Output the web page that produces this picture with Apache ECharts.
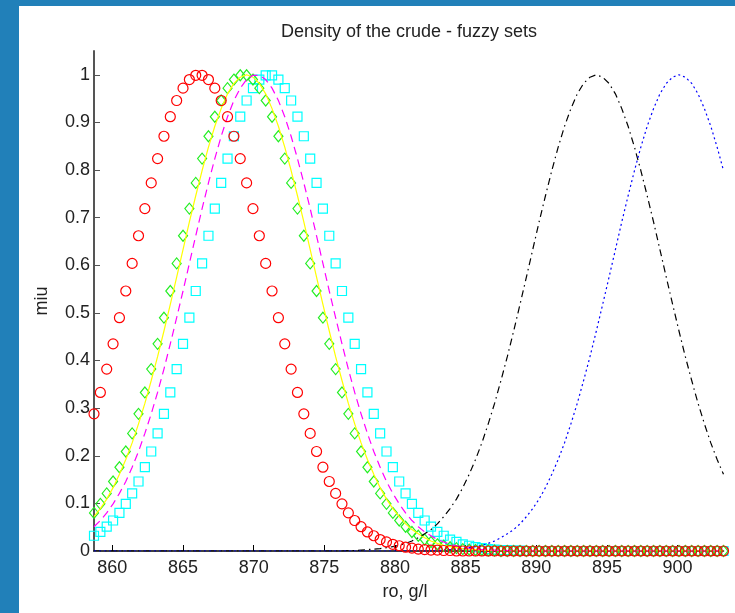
<!DOCTYPE html>
<html><head><meta charset="utf-8">
<script src="https://cdn.jsdelivr.net/npm/echarts@6/dist/echarts.min.js"></script>
<style>html,body{margin:0;padding:0;background:#fff}#c{width:735px;height:613px}</style>
</head><body><div id="c"></div>
<script>
const xValues = [
858.7, 859.15, 859.6, 860.05, 860.5, 860.95, 861.4, 861.85, 862.3, 862.75,
863.2, 863.65, 864.1, 864.55, 865.0, 865.45, 865.9, 866.35, 866.8, 867.25,
867.7, 868.15, 868.6, 869.05, 869.5, 869.95, 870.4, 870.85, 871.3, 871.75,
872.2, 872.65, 873.1, 873.55, 874.0, 874.45, 874.9, 875.35, 875.8, 876.25,
876.7, 877.15, 877.6, 878.05, 878.5, 878.95, 879.4, 879.85, 880.3, 880.75,
881.2, 881.65, 882.1, 882.55, 883.0, 883.45, 883.9, 884.35, 884.8, 885.25,
885.7, 886.15, 886.6, 887.05, 887.5, 887.95, 888.4, 888.85, 889.3, 889.75,
890.2, 890.65, 891.1, 891.55, 892.0, 892.45, 892.9, 893.35, 893.8, 894.25,
894.7, 895.15, 895.6, 896.05, 896.5, 896.95, 897.4, 897.85, 898.3, 898.75,
899.2, 899.65, 900.1, 900.55, 901.0, 901.45, 901.9, 902.35, 902.8, 903.25];

const redCircles = [
0.288, 0.333, 0.382, 0.435, 0.490, 0.546, 0.604, 0.662, 0.719, 0.773,
0.824, 0.871, 0.912, 0.946, 0.972, 0.990, 0.999, 0.999, 0.990, 0.972,
0.946, 0.912, 0.871, 0.824, 0.773, 0.719, 0.662, 0.604, 0.546, 0.490,
0.435, 0.382, 0.333, 0.288, 0.247, 0.209, 0.176, 0.146, 0.121, 0.099,
0.080, 0.064, 0.051, 0.040, 0.032, 0.024, 0.019, 0.014, 0.011, 0.008,
0.006, 0.004, 0.003, 0.002, 0.002, 0.001, 0.001, 0, 0, 0,
0, 0, 0, 0, 0, 0, 0, 0, 0, 0,
0, 0, 0, 0, 0, 0, 0, 0, 0, 0,
0, 0, 0, 0, 0, 0, 0, 0, 0, 0,
0, 0, 0, 0, 0, 0, 0, 0, 0, 0];

const greenDiamonds = [
0.080, 0.099, 0.121, 0.146, 0.176, 0.209, 0.247, 0.288, 0.333, 0.382,
0.435, 0.490, 0.546, 0.604, 0.662, 0.719, 0.773, 0.824, 0.871, 0.912,
0.946, 0.972, 0.990, 0.999, 0.999, 0.990, 0.972, 0.946, 0.912, 0.871,
0.824, 0.773, 0.719, 0.662, 0.604, 0.546, 0.490, 0.435, 0.382, 0.333,
0.288, 0.247, 0.209, 0.176, 0.146, 0.121, 0.099, 0.080, 0.064, 0.051,
0.040, 0.032, 0.024, 0.019, 0.014, 0.011, 0.008, 0.006, 0.004, 0.003,
0.002, 0.002, 0.001, 0.001, 0, 0, 0, 0, 0, 0,
0, 0, 0, 0, 0, 0, 0, 0, 0, 0,
0, 0, 0, 0, 0, 0, 0, 0, 0, 0,
0, 0, 0, 0, 0, 0, 0, 0, 0, 0];

const cyanSquares = [
0.032, 0.040, 0.051, 0.064, 0.080, 0.099, 0.121, 0.146, 0.176, 0.209,
0.247, 0.288, 0.333, 0.382, 0.435, 0.490, 0.546, 0.604, 0.662, 0.719,
0.773, 0.824, 0.871, 0.912, 0.946, 0.972, 0.990, 0.999, 0.999, 0.990,
0.972, 0.946, 0.912, 0.871, 0.824, 0.773, 0.719, 0.662, 0.604, 0.546,
0.490, 0.435, 0.382, 0.333, 0.288, 0.247, 0.209, 0.176, 0.146, 0.121,
0.099, 0.080, 0.064, 0.051, 0.040, 0.032, 0.024, 0.019, 0.014, 0.011,
0.008, 0.006, 0.004, 0.003, 0.002, 0.002, 0.001, 0.001, 0, 0,
0, 0, 0, 0, 0, 0, 0, 0, 0, 0,
0, 0, 0, 0, 0, 0, 0, 0, 0, 0,
0, 0, 0, 0, 0, 0, 0, 0, 0, 0];

const yellowLine = [
0.072, 0.089, 0.109, 0.133, 0.161, 0.192, 0.227, 0.267, 0.310, 0.358,
0.408, 0.462, 0.518, 0.575, 0.633, 0.691, 0.746, 0.799, 0.848, 0.892,
0.929, 0.960, 0.982, 0.995, 1.000, 0.995, 0.982, 0.960, 0.929, 0.892,
0.848, 0.799, 0.746, 0.691, 0.633, 0.575, 0.518, 0.462, 0.408, 0.358,
0.310, 0.267, 0.227, 0.192, 0.161, 0.133, 0.109, 0.089, 0.072, 0.057,
0.045, 0.036, 0.028, 0.021, 0.016, 0.012, 0.009, 0.007, 0.005, 0.004,
0.003, 0.002, 0.001, 0.001, 0, 0, 0, 0, 0, 0,
0, 0, 0, 0, 0, 0, 0, 0, 0, 0,
0, 0, 0, 0, 0, 0, 0, 0, 0, 0,
0, 0, 0, 0, 0, 0, 0, 0, 0, 0];

const magentaLine = [
0.051, 0.064, 0.080, 0.099, 0.121, 0.146, 0.176, 0.209, 0.247, 0.288,
0.333, 0.382, 0.435, 0.490, 0.546, 0.604, 0.662, 0.719, 0.773, 0.824,
0.871, 0.912, 0.946, 0.972, 0.990, 0.999, 0.999, 0.990, 0.972, 0.946,
0.912, 0.871, 0.824, 0.773, 0.719, 0.662, 0.604, 0.546, 0.490, 0.435,
0.382, 0.333, 0.288, 0.247, 0.209, 0.176, 0.146, 0.121, 0.099, 0.080,
0.064, 0.051, 0.040, 0.032, 0.024, 0.019, 0.014, 0.011, 0.008, 0.006,
0.004, 0.003, 0.002, 0.002, 0.001, 0.001, 0, 0, 0, 0,
0, 0, 0, 0, 0, 0, 0, 0, 0, 0,
0, 0, 0, 0, 0, 0, 0, 0, 0, 0,
0, 0, 0, 0, 0, 0, 0, 0, 0, 0];

const blackLine = [
0, 0, 0, 0, 0, 0, 0, 0, 0, 0,
0, 0, 0, 0, 0, 0, 0, 0, 0, 0,
0, 0, 0, 0, 0, 0, 0, 0, 0, 0,
0, 0, 0, 0, 0, 0, 0, 0, 0, 0,
0.001, 0.001, 0.002, 0.003, 0.004, 0.005, 0.007, 0.009, 0.012, 0.016,
0.021, 0.028, 0.036, 0.045, 0.057, 0.072, 0.089, 0.109, 0.133, 0.161,
0.192, 0.227, 0.267, 0.310, 0.358, 0.408, 0.462, 0.518, 0.575, 0.633,
0.691, 0.746, 0.799, 0.848, 0.892, 0.929, 0.960, 0.982, 0.995, 1.000,
0.995, 0.982, 0.960, 0.929, 0.892, 0.848, 0.799, 0.746, 0.691, 0.633,
0.575, 0.518, 0.462, 0.408, 0.358, 0.310, 0.267, 0.227, 0.192, 0.161];

const blueLine = [
0, 0, 0, 0, 0, 0, 0, 0, 0, 0,
0, 0, 0, 0, 0, 0, 0, 0, 0, 0,
0, 0, 0, 0, 0, 0, 0, 0, 0, 0,
0, 0, 0, 0, 0, 0, 0, 0, 0, 0,
0, 0, 0, 0, 0, 0, 0, 0, 0, 0,
0, 0, 0, 0.001, 0.001, 0.002, 0.003, 0.004, 0.005, 0.007,
0.009, 0.012, 0.016, 0.021, 0.028, 0.036, 0.045, 0.057, 0.072, 0.089,
0.109, 0.133, 0.161, 0.192, 0.227, 0.267, 0.310, 0.358, 0.408, 0.462,
0.518, 0.575, 0.633, 0.691, 0.746, 0.799, 0.848, 0.892, 0.929, 0.960,
0.982, 0.995, 1.000, 0.995, 0.982, 0.960, 0.929, 0.892, 0.848, 0.799];

const xTicks = [860, 865, 870, 875, 880, 885, 890, 895, 900];
const yTicks = [0, 0.1, 0.2, 0.3, 0.4, 0.5, 0.6, 0.7, 0.8, 0.9, 1];

const titleText = 'Density of the crude - fuzzy sets';
const xLabelText = 'ro, g/l';
const yLabelText = 'miu';

function pairs(ys) { return xValues.map(function (x, i) { return [x, ys[i]]; }); }

const FONT_FAMILY = '"Liberation Sans", Arial, sans-serif';
const chart = echarts.init(document.getElementById('c'), null, { renderer: 'canvas' });

function markerSeries(data, symbol, size, color, z) {
  return {
    type: 'scatter', data: pairs(data), symbol: symbol, symbolSize: size, silent: true, z: z,
    itemStyle: { color: 'rgba(0,0,0,0)', borderColor: color, borderWidth: 1.2, opacity: 1 },
    emphasis: { disabled: true }
  };
}
function lineSeries(data, color, dash, z) {
  return {
    type: 'line', data: pairs(data), showSymbol: false, symbol: 'none', silent: true, z: z,
    lineStyle: { color: color, width: 1.2, type: dash },
    emphasis: { disabled: true }
  };
}

chart.setOption({
  animation: false,
  backgroundColor: '#ffffff',
  grid: { left: 94, top: 51, width: 629.5, height: 500, containLabel: false, outerBoundsMode: 'none' },
  xAxis: {
    type: 'value', min: 858.7, max: 903.25,
    splitLine: { show: false },
    axisLine: { show: true, onZero: false, lineStyle: { color: '#000', width: 1.5 } },
    axisTick: { show: true, inside: true, length: 6, customValues: xTicks, lineStyle: { color: '#000' } },
    axisLabel: { customValues: xTicks, margin: 8, fontSize: 18, fontFamily: FONT_FAMILY, color: '#222' }
  },
  yAxis: {
    type: 'value', min: 0, max: 1.05,
    splitLine: { show: false },
    axisLine: { show: true, onZero: false, lineStyle: { color: '#555', width: 2 } },
    axisTick: { show: true, inside: true, length: 6, customValues: yTicks, lineStyle: { color: '#555' } },
    axisLabel: { customValues: yTicks, margin: 4, fontSize: 18, fontFamily: FONT_FAMILY, color: '#222',
      formatter: function (v) { return String(v); } }
  },
  graphic: [
    { type: 'rect', shape: { x: 0, y: 0, width: 19, height: 613 }, style: { fill: '#2180b9' }, silent: true },
    { type: 'rect', shape: { x: 0, y: 0, width: 735, height: 6 }, style: { fill: '#2180b9' }, silent: true },
    { type: 'text', x: 409, y: 32, silent: true,
      style: { text: titleText, fill: '#222', font: '18px ' + FONT_FAMILY, align: 'center', verticalAlign: 'middle' } },
    { type: 'text', x: 405, y: 592, silent: true,
      style: { text: xLabelText, fill: '#222', font: '18px ' + FONT_FAMILY, align: 'center', verticalAlign: 'middle' } },
    { type: 'text', x: 42, y: 301, rotation: Math.PI / 2, silent: true,
      style: { text: yLabelText, fill: '#222', font: '18px ' + FONT_FAMILY, align: 'center', verticalAlign: 'middle' } }
  ],
  series: [
    markerSeries(cyanSquares, 'rect', 9, '#00ffff', 2),
    markerSeries(greenDiamonds, 'diamond', [9, 11], '#22ee22', 3),
    lineSeries(yellowLine, '#ffff00', 'solid', 4),
    lineSeries(magentaLine, '#ff00ff', [8, 5], 5),
    lineSeries(blackLine, '#000000', [7, 4, 1.5, 4], 6),
    lineSeries(blueLine, '#0000ff', [2, 3], 7),
    markerSeries(redCircles, 'circle', 10, '#ff0000', 8)
  ]
});
</script>
</body></html>
